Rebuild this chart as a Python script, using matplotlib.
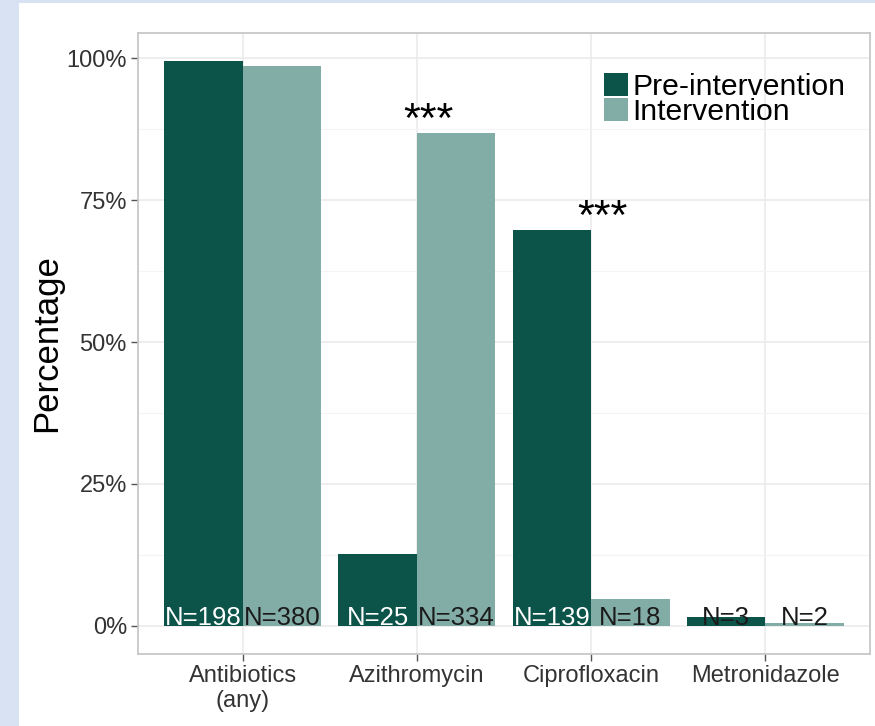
import matplotlib
matplotlib.use("Agg")
import matplotlib.pyplot as plt
from matplotlib.patches import Patch, Rectangle
import numpy as np

categories = ["Antibiotics\n(any)", "Azithromycin", "Ciprofloxacin", "Metronidazole"]
pre_values = [99.5, 12.6, 69.8, 1.5]
int_values = [98.7, 86.8, 4.7, 0.5]
pre_n = ["N=198", "N=25", "N=139", "N=3"]
int_n = ["N=380", "N=334", "N=18", "N=2"]
pre_text_colors = ["white", "white", "white", "#1a1a1a"]
int_text_colors = ["#1a1a1a", "#1a1a1a", "#1a1a1a", "#1a1a1a"]
sig_marks = ["", "***", "***", ""]
sig_heights = [None, 86.8, 69.8, None]
series_names = ["Pre-intervention", "Intervention"]
yticks = [0, 25, 50, 75, 100]
ytick_labels = ["0%", "25%", "50%", "75%", "100%"]

dark = "#0c544a"
light = "#82ada6"

plt.rcParams['font.family'] = ['Liberation Sans', 'DejaVu Sans']

fig = plt.figure(figsize=(8.75, 7.26), dpi=100)
fig.patch.set_facecolor("#d9e2f2")
fig.patches.append(Rectangle((19 / 875, 0), 1, 1 - 3 / 726, transform=fig.transFigure,
                             facecolor="white", edgecolor="none", zorder=-10))

ax = fig.add_axes([138 / 875, 1 - 654 / 726, 732 / 875, 621 / 726])
ax.set_facecolor("white")

x = np.arange(1, len(categories) + 1)
w = 0.45
ax.bar(x - w / 2, pre_values, width=w, color=dark, zorder=2, label=series_names[0])
ax.bar(x + w / 2, int_values, width=w, color=light, zorder=2, label=series_names[1])

for i in range(len(categories)):
    ax.text(x[i] - w / 2, 0.1, pre_n[i], ha="center", va="baseline", fontsize=18.5,
            color=pre_text_colors[i], zorder=4)
    ax.text(x[i] + w / 2, 0.1, int_n[i], ha="center", va="baseline", fontsize=18.5,
            color=int_text_colors[i], zorder=4)
    if sig_marks[i]:
        ax.text(x[i] + 0.065, sig_heights[i] - 1.4, sig_marks[i], ha="center", va="bottom",
                fontsize=31, color="black", zorder=4)

ax.set_xlim(0.4, 4.6)
ax.set_ylim(-4.975, 104.475)
ax.set_xticks(x)
ax.set_xticklabels(categories, fontsize=17, color="#333333", linespacing=1.15)
ax.set_yticks(yticks)
ax.set_yticklabels(ytick_labels, fontsize=17, color="#333333")
ax.set_yticks([12.5, 37.5, 62.5, 87.5], minor=True)
ax.tick_params(axis="both", which="major", length=5, width=1, color="#555555", pad=3)
ax.tick_params(axis="y", which="minor", length=0)

ax.grid(True, which="major", color="#ebebeb", linewidth=1.2, zorder=0)
ax.grid(True, which="minor", axis="y", color="#f4f4f4", linewidth=0.8, zorder=0)
ax.set_axisbelow(True)
for s in ax.spines.values():
    s.set_color("#c4c4c4")
    s.set_linewidth(1.2)

ax.set_ylabel("Percentage", fontsize=25, color="black", labelpad=2)

handles = [Patch(facecolor=dark, edgecolor="none"), Patch(facecolor=light, edgecolor="none")]
leg = ax.legend(handles, series_names, loc="upper left", bbox_to_anchor=(0.636, 0.935),
                frameon=False, fontsize=21.7, handlelength=0.8, handleheight=0.8,
                handletextpad=0.15, labelspacing=-0.1, borderpad=0, borderaxespad=0)

fig.savefig("out.png", dpi=100, facecolor=fig.get_facecolor())
